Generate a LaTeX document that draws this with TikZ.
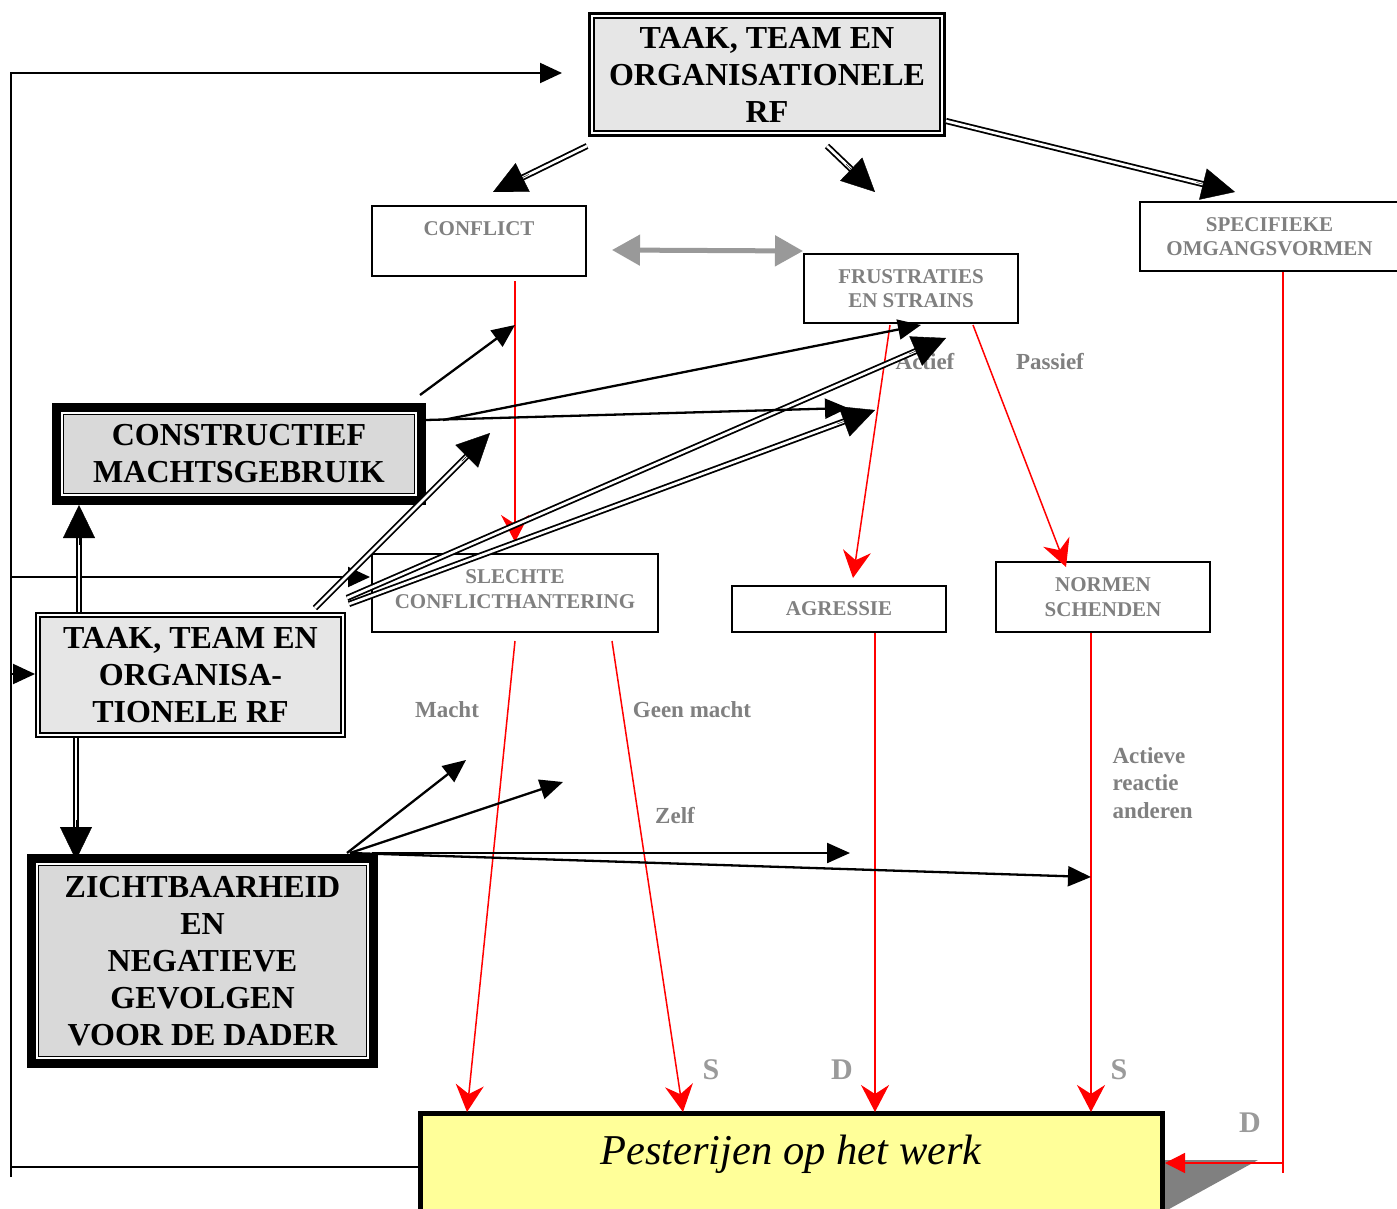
\documentclass[tikz,border=0pt]{standalone}
\usepackage{fontspec}
\setmainfont{Liberation Serif}
\usetikzlibrary{arrows.meta,calc}
\definecolor{boxA}{HTML}{E6E6E6}
\definecolor{boxB}{HTML}{D9D9D9}
\definecolor{pestyellow}{HTML}{FFFF99}
\definecolor{txtgrey}{HTML}{808080}
\definecolor{lblgrey}{HTML}{9A9A9A}
\definecolor{arrgrey}{HTML}{999999}
\definecolor{shadowgrey}{HTML}{808080}
\tikzset{
  bigfont/.style={font=\fontsize{32}{37}\selectfont\bfseries},
  greyfont/.style={font=\fontsize{21}{24.5}\selectfont\bfseries, text=txtgrey},
  lblfont/.style={font=\fontsize{23}{27.5}\selectfont\bfseries, text=txtgrey},
  sdfont/.style={font=\fontsize{30}{34}\selectfont\bfseries, text=lblgrey},
  thinbox/.style={draw, line width=2pt, fill=white, inner sep=0pt, align=center, greyfont},
  framebox/.style n args={3}{draw, fill=white, line width=#1, inner sep=0pt, align=center, bigfont,
    path picture={\draw[line width=1.3pt, fill=#3]
      ([shift={(#2,#2)}]path picture bounding box.south west) rectangle
      ([shift={(-#2,-#2)}]path picture bounding box.north east);}},
  blk/.style={line width=2.3pt, -{Triangle[length=23pt,width=20pt]}},
  fbline/.style={line width=2pt},
  fbarrow/.style={line width=2pt, -{Triangle[length=22pt,width=20pt]}},
  dbl/.style={double, double distance=2.6pt, line width=1.8pt, shorten >=22pt},
  bighead/.style={line width=0.4pt, -{Triangle[length=33pt,width=32pt]}},
  redline/.style={draw=red, line width=1.5pt},
  redarrow/.style={draw=red, line width=1.5pt, -{Stealth[length=27pt,width=28pt,inset=9pt]}},
  redsmall/.style={draw=red, line width=1.5pt, -{Triangle[length=20pt,width=20pt]}},
  greyarrow/.style={draw=arrgrey, line width=5pt, {Triangle[length=28pt,width=30pt]}-{Triangle[length=28pt,width=30pt]}},
}
\begin{document}
\begin{tikzpicture}[x=1pt,y=-1pt]
\useasboundingbox (0,0) rectangle (1397,1209);
\fill[white] (0,0) rectangle (1397,1209);

% ---------- boxes ----------
\node[framebox={3pt}{4.5pt}{boxA}, minimum width=355pt, minimum height=122pt] (topbox) at (767,74.5)
  {TAAK, TEAM EN\\ORGANISATIONELE\\RF};
\node[thinbox, minimum width=214pt, minimum height=70pt] (conflict) at (479,241) {};
\node[greyfont] (conflicttxt) at (479,229) {CONFLICT};
\node[thinbox, minimum width=214pt, minimum height=69pt] (frust) at (911,288.5) {FRUSTRATIES\\EN STRAINS};
\node[thinbox, minimum width=259pt, minimum height=69pt] (spec) at (1269.5,236.5) {SPECIFIEKE\\OMGANGSVORMEN};
\node[framebox={9pt}{7.2pt}{boxB}, minimum width=365pt, minimum height=93pt] (constr) at (239,454)
  {CONSTRUCTIEF\\MACHTSGEBRUIK};
\node[thinbox, minimum width=286pt, minimum height=78pt] (slechte) at (515,593) {};
\node[greyfont, align=center] (slechtetxt) at (515,589) {SLECHTE\\CONFLICTHANTERING};
\node[thinbox, minimum width=214pt, minimum height=46pt] (agressie) at (839,609) {AGRESSIE};
\node[thinbox, minimum width=214pt, minimum height=70pt] (normen) at (1103,597) {NORMEN\\SCHENDEN};
\node[framebox={2.3pt}{4pt}{boxA}, minimum width=309pt, minimum height=124pt] (taak) at (190.5,675)
  {TAAK, TEAM EN\\ORGANISA-\\TIONELE RF};
\node[framebox={9pt}{7.2pt}{boxB}, minimum width=342pt, minimum height=205pt] (zicht) at (202.5,961)
  {ZICHTBAARHEID\\EN\\NEGATIEVE\\GEVOLGEN\\VOOR DE DADER};

% shadow and Pesterijen box
\fill[shadowgrey] (1160,1160) -- (1258,1160) -- (1160,1214) -- cycle;
\node[draw, line width=5pt, fill=pestyellow, minimum width=742pt, minimum height=146.5pt, inner sep=0pt] (pest) at (791.5,1186.75) {};
\node[font=\fontsize{42.5}{48}\selectfont\itshape] (pesttxt) at (791,1154) {Pesterijen op het werk};

% ---------- labels ----------
\node[lblfont] (lactief) at (925,362) {Actief};
\node[lblfont] (lpassief) at (1050,362) {Passief};
\node[lblfont] (lmacht) at (447,710) {Macht};
\node[lblfont] (lgeen) at (692,710) {Geen macht};
\node[lblfont] (lzelf) at (675,816) {Zelf};
\node[lblfont, align=left, anchor=west] (lactieve) at (1109,783) {Actieve\\reactie\\anderen};
\node[sdfont] (s1) at (711,1070) {S};
\node[sdfont] (d1) at (842,1070) {D};
\node[sdfont] (s2) at (1119,1070) {S};
\node[sdfont] (d2) at (1250,1123) {D};

% ---------- coordinates ----------
\coordinate (tA1) at (587,146); \coordinate (tA2) at (493,192);
\coordinate (tB1) at (827,146); \coordinate (tB2) at (875,192);
\coordinate (tC1) at (946,121); \coordinate (tC2) at (1235,192);
\coordinate (gA) at (612,250); \coordinate (gB) at (803,251);
\coordinate (rc1) at (515,281); \coordinate (rc2) at (515,542);
\coordinate (rf1) at (890,325); \coordinate (rf2) at (853,578);
\coordinate (rf3) at (973,325); \coordinate (rf4) at (1066,567);
\coordinate (rs1) at (515,641); \coordinate (rs2) at (467,1112);
\coordinate (rs3) at (612,641); \coordinate (rs4) at (683,1112);
\coordinate (ra1) at (875,633); \coordinate (ra2) at (875,1112);
\coordinate (rn1) at (1091,633); \coordinate (rn2) at (1091,1112);
\coordinate (rp1) at (1283,272); \coordinate (rp2) at (1283,1173);
\coordinate (rp3) at (1283,1163); \coordinate (rp4) at (1165,1163);
\coordinate (c1) at (420,395); \coordinate (c1e) at (515,325);
\coordinate (c2) at (443,420); \coordinate (c2e) at (921,325);
\coordinate (c3) at (426,420); \coordinate (c3e) at (848,408);
\coordinate (d1s) at (315,608); \coordinate (d1e) at (490,433);
\coordinate (d2s) at (347,598); \coordinate (d2e) at (946,338);
\coordinate (d3s) at (349,604); \coordinate (d3e) at (875,410);
\coordinate (u1) at (79,612); \coordinate (u1e) at (79,505);
\coordinate (v1) at (76,738); \coordinate (v1e) at (76,860);
\coordinate (z1) at (347,853); \coordinate (z1e) at (466,760);
\coordinate (z2) at (350,853); \coordinate (z2e) at (563,782);
\coordinate (z3) at (372,853); \coordinate (z3e) at (850,853);
\coordinate (z4) at (350,853); \coordinate (z4e) at (1091,877);
\coordinate (f0) at (418,1167); \coordinate (f1) at (11,1167);
\coordinate (fbot) at (11,1177); \coordinate (ftop) at (11,73); \coordinate (ftopE) at (562,73);
\coordinate (fm) at (11,577); \coordinate (fmE) at (370,577);
\coordinate (fl) at (11,674); \coordinate (flE) at (35,674);

% ---------- feedback lines ----------
\draw[fbline] (f0) -- (f1);
\draw[fbarrow] (fbot) -- (ftop) -- (ftopE);
\draw[fbarrow] (fm) -- (fmE);
\draw[fbarrow] (fl) -- (flE);

% ---------- grey double arrow ----------
\draw[greyarrow] (gA) -- (gB);

% ---------- red arrows ----------
\draw[redarrow] (rc1) -- (rc2);
\draw[redarrow] (rf1) -- (rf2);
\draw[redarrow] (rf3) -- (rf4);
\draw[redarrow] (rs1) -- (rs2);
\draw[redarrow] (rs3) -- (rs4);
\draw[redarrow] (ra1) -- (ra2);
\draw[redarrow] (rn1) -- (rn2);
\draw[redline] (rp1) -- (rp2);
\draw[redsmall] (rp3) -- (rp4);

% ---------- double arrows ----------
\foreach \s/\t in {tA1/tA2, tB1/tB2, tC1/tC2, d1s/d1e, d2s/d2e, d3s/d3e, u1/u1e, v1/v1e} {
  \draw[dbl] (\s) -- (\t);
  \draw[bighead] ($(\t)!40pt!(\s)$) -- (\t);
}

% ---------- single black arrows ----------
\draw[blk] (c1) -- (c1e);
\draw[blk] (c2) -- (c2e);
\draw[blk] (c3) -- (c3e);
\draw[blk] (z1) -- (z1e);
\draw[blk] (z2) -- (z2e);
\draw[blk] (z3) -- (z3e);
\draw[blk] (z4) -- (z4e);
\end{tikzpicture}
\end{document}
